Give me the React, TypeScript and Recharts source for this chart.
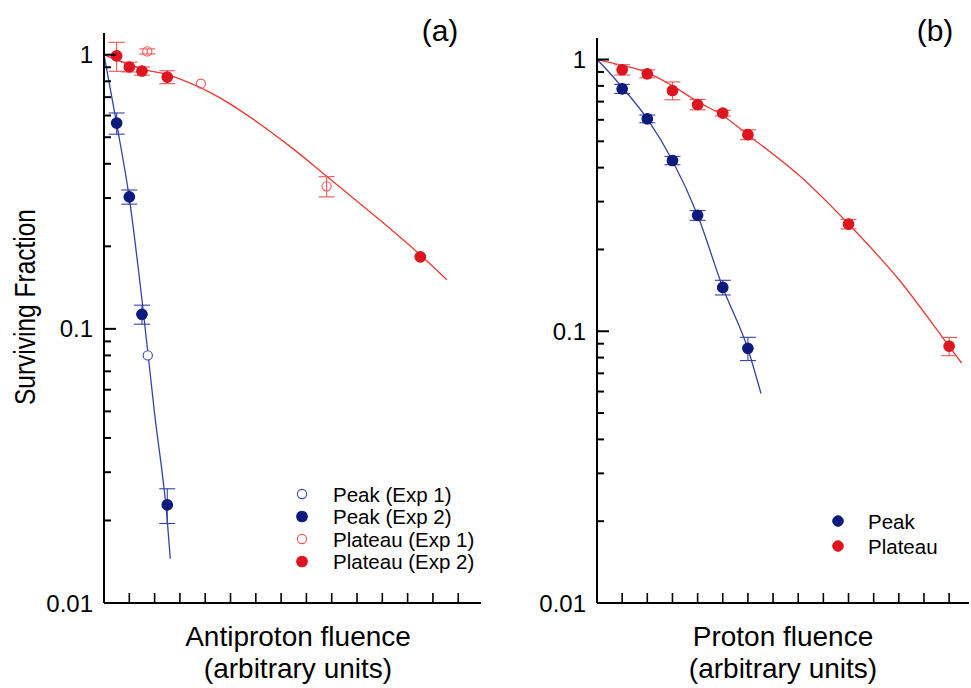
import { ComposedChart, Line, Scatter, ErrorBar, XAxis, YAxis } from "recharts";

const FONT = '"Liberation Sans", Arial, Helvetica, sans-serif';
const RED = "#dd1520";
const RED_LINE = "#ea3a33";
const RED_ERR = "#ec5555";
const BLUE = "#0b1a7c";
const BLUE_LINE = "#3443a5";

// y axis (log): tick positions and labels
const Y_TICKS = [0.01, 0.02, 0.03, 0.04, 0.05, 0.06, 0.07, 0.08, 0.09, 0.1, 0.2, 0.3, 0.4, 0.5, 0.6, 0.7, 0.8, 0.9, 1];
const Y_MAJOR = [0.01, 0.1, 1];
const Y_LABELS = ["0.01", "0.1", "1"];
const X_TICKS = [1, 2, 3, 4, 5, 6, 7, 8, 9, 10, 11, 12, 13, 14];

// (a) antiproton
const A_PEAK1_X = [1.73];
const A_PEAK1_Y = [0.08];
const A_PEAK2_X = [0.5, 1, 1.5, 2.5];
const A_PEAK2_Y = [0.563, 0.303, 0.113, 0.0228];
const A_PEAK2_ERR = [0.05, 0.018, 0.009, 0.0033];
const A_PLAT1_X = [1.71, 3.83, 8.8];
const A_PLAT1_Y = [1.028, 0.784, 0.331];
const A_PLAT1_ERR = [0.022, 0, 0.028];
const A_PLAT2_X = [0.5, 1, 1.5, 2.5, 12.5];
const A_PLAT2_Y = [0.99, 0.902, 0.872, 0.829, 0.183];
const A_PLAT2_ERR = [0.12, 0.037, 0.03, 0.045, 0];
const A_PEAK_FIT_X = [0, 0.5, 1, 1.5, 2, 2.5, 2.62];
const A_PEAK_FIT_Y = [1, 0.56, 0.3, 0.128, 0.049, 0.02, 0.0145];
const A_PLAT_FIT_X = [0, 1, 1.5, 2.53, 3.79, 7.35, 8.8, 12.56, 13.55];
const A_PLAT_FIT_Y = [1, 0.92, 0.887, 0.845, 0.76, 0.463, 0.36, 0.184, 0.151];

// (b) proton
const B_PEAK_X = [1, 2, 3, 4, 5, 6];
const B_PEAK_Y = [0.78, 0.605, 0.425, 0.267, 0.145, 0.0865];
const B_PEAK_ERR = [0.03, 0.02, 0.015, 0.011, 0.009, 0.0085];
const B_PLAT_X = [1, 2, 3, 4, 5, 6, 10, 14];
const B_PLAT_Y = [0.917, 0.886, 0.769, 0.683, 0.635, 0.529, 0.248, 0.0881];
const B_PLAT_ERR = [0.04, 0.03, 0.058, 0.03, 0.015, 0.022, 0.01, 0.0068];
const B_PEAK_FIT_X = [0, 0.48, 1, 2, 3, 4, 5, 6, 6.52];
const B_PEAK_FIT_Y = [1, 0.898, 0.79, 0.605, 0.425, 0.267, 0.145, 0.086, 0.059];
const B_PLAT_FIT_X = [0, 1, 2, 3, 4, 5, 6, 8.1, 10, 12, 14, 14.5];
const B_PLAT_FIT_Y = [1, 0.952, 0.895, 0.8, 0.7, 0.622, 0.528, 0.37, 0.248, 0.155, 0.088, 0.0763];

const LEGEND_A = ["Peak (Exp 1)", "Peak (Exp 2)", "Plateau (Exp 1)", "Plateau (Exp 2)"];
const LEGEND_B = ["Peak", "Plateau"];

const pts = (xs: number[], ys: number[], errs?: number[]) =>
  xs.map((x, i) => ({ x, y: ys[i], err: errs ? errs[i] : 0 }));

function YTick({ x, y, payload }: any) {
  const idx = Y_MAJOR.indexOf(payload.value);
  const major = idx >= 0;
  return (
    <g>
      <line x1={x} y1={y} x2={x + (major ? 12 : 7)} y2={y} stroke="#000" strokeWidth={2} />
      {major && (
        <text x={x - 11} y={y} textAnchor="end" dominantBaseline="central" fontSize={24} fontFamily={FONT} fill="#000">
          {Y_LABELS[idx]}
        </text>
      )}
    </g>
  );
}

function XTick({ x, y }: any) {
  return <line x1={x} y1={y} x2={x} y2={y - 10} stroke="#000" strokeWidth={1.6} />;
}

const dotShape = (fill: string, stroke: string, r: number) => (p: any) =>
  <circle cx={p.cx} cy={p.cy} r={r} fill={fill} stroke={stroke} strokeWidth={1.1} />;

function Panel({ left, width, top, xMax, children }: any) {
  return (
    <div style={{ position: "absolute", left, top: 0 }}>
      <ComposedChart width={width} height={688} margin={{ top, right: 0, bottom: 55, left: 0 }}>
        <XAxis
          type="number"
          dataKey="x"
          domain={[0, xMax]}
          allowDataOverflow
          ticks={X_TICKS}
          interval={0}
          tick={<XTick />}
          tickSize={0}
          tickMargin={0}
          tickLine={false}
          height={30}
          axisLine={{ stroke: "#000", strokeWidth: 2 }}
        />
        <YAxis
          type="number"
          dataKey="y"
          scale="log"
          domain={[0.01, 1.2]}
          allowDataOverflow
          ticks={Y_TICKS}
          interval={0}
          tick={<YTick />}
          tickSize={0}
          tickMargin={0}
          tickLine={false}
          width={left === 0 ? 104 : 107}
          axisLine={{ stroke: "#000", strokeWidth: 2 }}
        />
        {children}
      </ComposedChart>
    </div>
  );
}

export default function App() {
  return (
    <div style={{ position: "absolute", left: 0, top: 0, width: 971, height: 688, background: "#fff", fontFamily: FONT }}>
      <Panel left={0} width={481} top={33} xMax={14.9}>
        <Line data={pts(A_PLAT_FIT_X, A_PLAT_FIT_Y)} dataKey="y" type="monotone" stroke={RED_LINE} strokeWidth={1.3} dot={false} isAnimationActive={false} />
        <Line data={pts(A_PEAK_FIT_X, A_PEAK_FIT_Y)} dataKey="y" type="monotone" stroke={BLUE_LINE} strokeWidth={1.3} dot={false} isAnimationActive={false} />
        <Scatter data={pts(A_PLAT1_X, A_PLAT1_Y, A_PLAT1_ERR)} shape={dotShape("none", RED_ERR, 4.6)} isAnimationActive={false}>
          <ErrorBar dataKey="err" direction="y" width={8} stroke={RED_ERR} strokeWidth={1.1} />
        </Scatter>
        <Scatter data={pts(A_PLAT2_X, A_PLAT2_Y, A_PLAT2_ERR)} shape={dotShape(RED, RED, 5.3)} isAnimationActive={false}>
          <ErrorBar dataKey="err" direction="y" width={8} stroke={RED_ERR} strokeWidth={1.1} />
        </Scatter>
        <Scatter data={pts(A_PEAK1_X, A_PEAK1_Y)} shape={dotShape("#fff", BLUE_LINE, 4.6)} isAnimationActive={false} />
        <Scatter data={pts(A_PEAK2_X, A_PEAK2_Y, A_PEAK2_ERR)} shape={dotShape(BLUE, BLUE, 5.3)} isAnimationActive={false}>
          <ErrorBar dataKey="err" direction="y" width={8} stroke={BLUE_LINE} strokeWidth={1.1} />
        </Scatter>
      </Panel>
      <Panel left={490} width={479} top={38} xMax={14.79}>
        <Line data={pts(B_PLAT_FIT_X, B_PLAT_FIT_Y)} dataKey="y" type="monotone" stroke={RED_LINE} strokeWidth={1.3} dot={false} isAnimationActive={false} />
        <Line data={pts(B_PEAK_FIT_X, B_PEAK_FIT_Y)} dataKey="y" type="monotone" stroke={BLUE_LINE} strokeWidth={1.3} dot={false} isAnimationActive={false} />
        <Scatter data={pts(B_PLAT_X, B_PLAT_Y, B_PLAT_ERR)} shape={dotShape(RED, RED, 5.3)} isAnimationActive={false}>
          <ErrorBar dataKey="err" direction="y" width={8} stroke={RED_ERR} strokeWidth={1.1} />
        </Scatter>
        <Scatter data={pts(B_PEAK_X, B_PEAK_Y, B_PEAK_ERR)} shape={dotShape(BLUE, BLUE, 5.3)} isAnimationActive={false}>
          <ErrorBar dataKey="err" direction="y" width={8} stroke={BLUE_LINE} strokeWidth={1.1} />
        </Scatter>
      </Panel>
      <svg width={971} height={688} style={{ position: "absolute", left: 0, top: 0, pointerEvents: "none" }} fontFamily={FONT}>
        <text x={440} y={30} textAnchor="middle" dominantBaseline="central" fontSize={30}>(a)</text>
        <text x={935} y={30} textAnchor="middle" dominantBaseline="central" fontSize={30}>(b)</text>
        <text x={0} y={0} transform="translate(25,307) rotate(-90)" textAnchor="middle" dominantBaseline="central" fontSize={29} textLength={196} lengthAdjust="spacingAndGlyphs">Surviving Fraction</text>
        <text x={298} y={636} textAnchor="middle" dominantBaseline="central" fontSize={28}>Antiproton fluence</text>
        <text x={298} y={668} textAnchor="middle" dominantBaseline="central" fontSize={28}>(arbitrary units)</text>
        <text x={783} y={636} textAnchor="middle" dominantBaseline="central" fontSize={28}>Proton fluence</text>
        <text x={783} y={668} textAnchor="middle" dominantBaseline="central" fontSize={28}>(arbitrary units)</text>
        {LEGEND_A.map((label, i) => {
          const cy = 494 + i * 22.5;
          const isRed = i >= 2;
          const open = i % 2 === 0;
          const c = isRed ? RED : BLUE;
          return (
            <g key={label}>
              <circle cx={302} cy={cy} r={open ? 4.6 : 5.3} fill={open ? "#fff" : c} stroke={open ? (isRed ? RED_ERR : BLUE_LINE) : c} strokeWidth={1.1} />
              <text x={333} y={cy} dominantBaseline="central" fontSize={20.5}>{label}</text>
            </g>
          );
        })}
        {LEGEND_B.map((label, i) => {
          const cy = 521 + i * 25;
          const c = i === 0 ? BLUE : RED;
          return (
            <g key={label}>
              <circle cx={838} cy={cy} r={5.3} fill={c} stroke={c} />
              <text x={868} y={cy} dominantBaseline="central" fontSize={20.5}>{label}</text>
            </g>
          );
        })}
      </svg>
    </div>
  );
}
